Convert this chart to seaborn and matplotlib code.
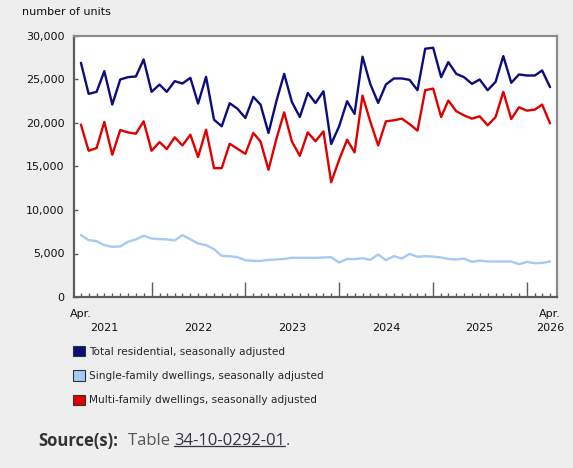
import pandas as pd
import matplotlib
matplotlib.use("Agg")
import matplotlib.pyplot as plt
import matplotlib.dates as mdates
from matplotlib.patches import Patch
from matplotlib.lines import Line2D
from matplotlib.ticker import FuncFormatter
import seaborn as sns

# monthly data, Apr. 2021 to Apr. 2026
months = pd.date_range("2021-04-01", periods=61, freq="MS")

total = [26920, 23350, 23580, 25960, 22120, 25000, 25270, 25350, 27300, 23580,
         24420, 23580, 24810, 24540, 25190, 22230, 25310, 20380, 19620, 22270,
         21650, 20580, 23000, 22120, 18850, 22420, 25650, 22420, 20690, 23460,
         22300, 23650, 17580, 19620, 22500, 21040, 27620, 24500, 22310, 24420,
         25120, 25120, 24960, 23770, 28540, 28650, 25270, 27000, 25650, 25270,
         24500, 25000, 23770, 24730, 27690, 24620, 25580, 25460, 25460, 26040,
         24120]
single = [7120, 6540, 6420, 5960, 5770, 5810, 6350, 6620, 7040, 6730,
          6650, 6620, 6500, 7120, 6620, 6150, 5960, 5500, 4730, 4690,
          4580, 4230, 4150, 4150, 4270, 4310, 4380, 4500, 4500, 4500,
          4500, 4540, 4580, 3960, 4380, 4350, 4460, 4270, 4880, 4230,
          4690, 4420, 4960, 4620, 4690, 4650, 4540, 4380, 4310, 4420,
          4040, 4190, 4080, 4080, 4080, 4080, 3770, 4040, 3880, 3920,
          4080]
multi = [19810, 16810, 17120, 20120, 16350, 19190, 18920, 18770, 20190, 16810,
         17810, 17000, 18350, 17420, 18650, 16080, 19230, 14810, 14810, 17620,
         17040, 16460, 18850, 17880, 14620, 18080, 21230, 17880, 16230, 18920,
         17900, 19040, 13190, 15770, 18080, 16620, 23150, 20190, 17420, 20190,
         20310, 20500, 19880, 19120, 23770, 23960, 20690, 22580, 21350, 20880,
         20500, 20770, 19730, 20690, 23580, 20460, 21810, 21420, 21540, 22120,
         19960]

series_names = ["Total residential, seasonally adjusted",
                "Single-family dwellings, seasonally adjusted",
                "Multi-family dwellings, seasonally adjusted"]
colors = ["#0c0c7c", "#a6caf3", "#e00000"]

year_labels = ["2021", "2022", "2023", "2024", "2025", "2026"]
year_label_months = ["2021-07-01", "2022-07-01", "2023-07-01", "2024-07-01",
                     "2025-07-01", "2026-04-01"]

df = pd.DataFrame({"month": list(months) * 3,
                   "value": total + single + multi,
                   "series": [n for n in series_names for _ in months]})

sns.set_theme(style="white")
plt.rcParams["font.family"] = ["DejaVu Sans"]

bg = "#eeeeee"
fig = plt.figure(figsize=(5.73, 4.68), dpi=100, facecolor=bg)
ax = fig.add_axes([74 / 573, 1 - 297 / 468, (557 - 74) / 573, (297 - 36) / 468])
ax.set_facecolor("white")

sns.lineplot(data=df, x="month", y="value", hue="series",
             palette=dict(zip(series_names, colors)), linewidth=1.7,
             legend=False, ax=ax)

ax.set_xlim(months[0] - pd.Timedelta(days=27), months[-1] + pd.Timedelta(days=27))
ax.set_ylim(0, 30000)
ax.set_xlabel("")
ax.set_ylabel("")

# axes frame
for side in ["left", "bottom"]:
    ax.spines[side].set_color("#5c5c5c")
    ax.spines[side].set_linewidth(1.6)
for side in ["top", "right"]:
    ax.spines[side].set_color("#8c8c8c")
    ax.spines[side].set_linewidth(1.6)

ax.set_yticks(range(0, 30001, 5000))
ax.yaxis.set_major_formatter(FuncFormatter(lambda v, p: f"{int(v):,}"))
ax.tick_params(axis="y", direction="in", length=3, width=1, color="#5c5c5c",
               labelsize=8, labelcolor="#111111", pad=7, left=True)

ax.xaxis.set_major_locator(mdates.YearLocator(month=1))
ax.xaxis.set_minor_locator(mdates.MonthLocator())
ax.tick_params(axis="x", which="major", direction="in", length=11, width=1,
               color="#5c5c5c", bottom=True, labelbottom=False)
ax.tick_params(axis="x", which="minor", direction="in", length=3, width=1,
               color="#5c5c5c", bottom=True)

trans = ax.get_xaxis_transform()
for d in [months[0], months[-1]]:
    ax.text(d, -0.067, "Apr.", transform=trans, ha="center", va="center",
            fontsize=8, color="#111111")
for lab, d in zip(year_labels, year_label_months):
    ax.text(pd.Timestamp(d), -0.118, lab, transform=trans, ha="center",
            va="center", fontsize=8, color="#111111")

fig.text(22 / 573, 1 - 12 / 468, "number of units", ha="left", va="center",
         fontsize=8, color="#111111")

handles = [Patch(facecolor=c, edgecolor="#333333", linewidth=0.8) for c in colors]
fig.legend(handles, series_names, loc="upper left",
           bbox_to_anchor=(73 / 573, 1 - 346 / 468), frameon=False,
           fontsize=7.6, handlelength=1.1, handleheight=1.1,
           handletextpad=0.4, labelspacing=1.3, borderaxespad=0, borderpad=0)

# source line
y_src = 1 - 441 / 468
fig.text(38 / 573, y_src, "Source(s):", ha="left", va="center", fontsize=12,
         fontweight="bold", family="Open Sans", color="#333333")
t1 = fig.text(128 / 573, y_src, "Table ", ha="left", va="center", fontsize=12,
              family="Open Sans", color="#555555")
fig.canvas.draw()
r = fig.canvas.get_renderer()
bb = t1.get_window_extent(r)
x_link = bb.x1 / fig.bbox.width
t2 = fig.text(x_link, y_src, "34-10-0292-01", ha="left", va="center",
              fontsize=12, family="Open Sans", color="#333344")
fig.canvas.draw()
bb2 = t2.get_window_extent(r)
fig.add_artist(Line2D([bb2.x0 / fig.bbox.width, bb2.x1 / fig.bbox.width],
                      [(bb2.y0 + 3) / fig.bbox.height] * 2,
                      color="#333344", linewidth=0.9))
fig.text(bb2.x1 / fig.bbox.width, y_src, ".", ha="left", va="center",
         fontsize=12, family="Open Sans", color="#555555")

fig.savefig("out.png", dpi=100, facecolor=bg)
